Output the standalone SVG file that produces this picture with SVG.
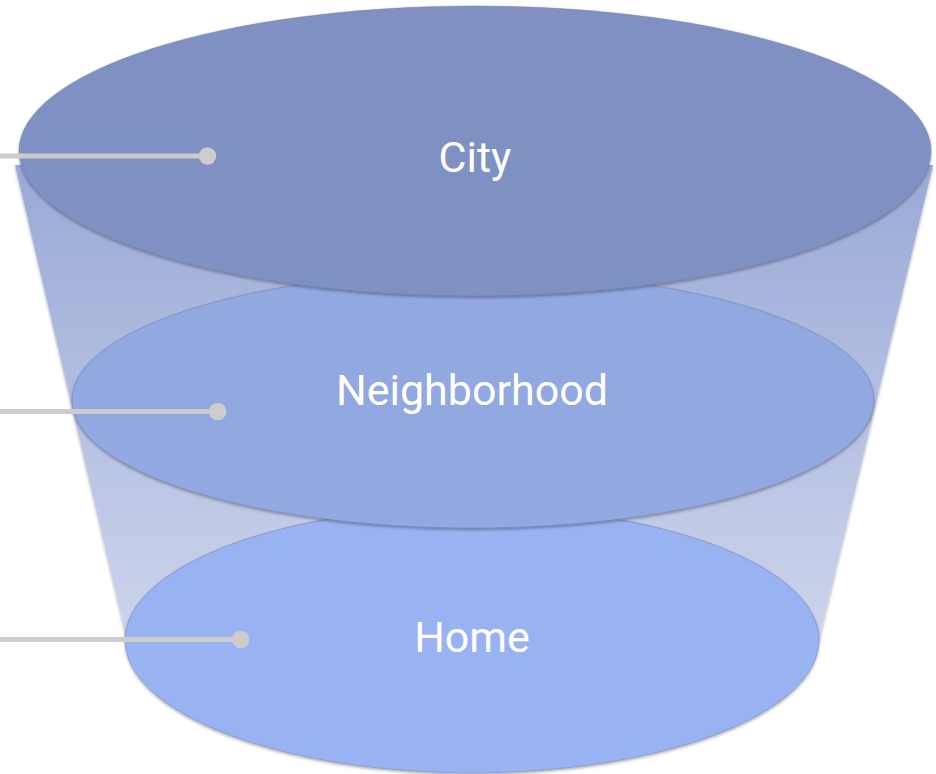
<svg xmlns="http://www.w3.org/2000/svg" width="936" height="774" viewBox="0 0 936 774">
<defs>
<linearGradient id="funnelGrad" gradientUnits="userSpaceOnUse" x1="0" y1="160" x2="0" y2="640">
<stop offset="0" stop-color="#99a9d6"/>
<stop offset="1" stop-color="#cdd4ec"/>
</linearGradient>
<filter id="shadow" x="-5%" y="-5%" width="110%" height="115%">
<feDropShadow dx="0" dy="1.5" stdDeviation="1.5" flood-color="#000" flood-opacity="0.35"/>
</filter>
<style>
.lbl{font-family:Roboto,"Liberation Sans",sans-serif;font-size:43px;fill:#ffffff;text-anchor:middle}
.conn{stroke:#cccccc;stroke-width:5;fill:none}
.dot{fill:#cccccc}
.edge{stroke:#6b7596;stroke-opacity:0.5;stroke-width:0.8}
</style>
</defs>
<rect width="936" height="774" fill="#ffffff"/>
<g id="funnel">
<path d="M 15 165 L 127 640 L 819 640 L 933 165 Z" fill="url(#funnelGrad)" filter="url(#shadow)"/>
</g>
<g id="home">
<ellipse class="edge" cx="472" cy="640" rx="347" ry="133" fill="#99b2f2" filter="url(#shadow)"/>
<text class="lbl" x="472" y="652">Home</text>
</g>
<g id="neighborhood">
<ellipse class="edge" cx="473" cy="400" rx="401" ry="128" fill="#91a8e0" filter="url(#shadow)"/>
<text class="lbl" x="472" y="405">Neighborhood</text>
</g>
<g id="city">
<ellipse class="edge" cx="475" cy="151" rx="456" ry="145" fill="#7f91c3" filter="url(#shadow)"/>
<text class="lbl" x="475" y="172">City</text>
</g>
<g id="connectors">
<line class="conn" x1="0" y1="156" x2="207" y2="156"/>
<circle class="dot" cx="207.5" cy="156" r="8.7"/>
<line class="conn" x1="0" y1="411.5" x2="218" y2="411.5"/>
<circle class="dot" cx="217.7" cy="411.5" r="8.7"/>
<line class="conn" x1="0" y1="639.5" x2="241" y2="639.5"/>
<circle class="dot" cx="240.7" cy="639.5" r="8.7"/>
</g>
</svg>
